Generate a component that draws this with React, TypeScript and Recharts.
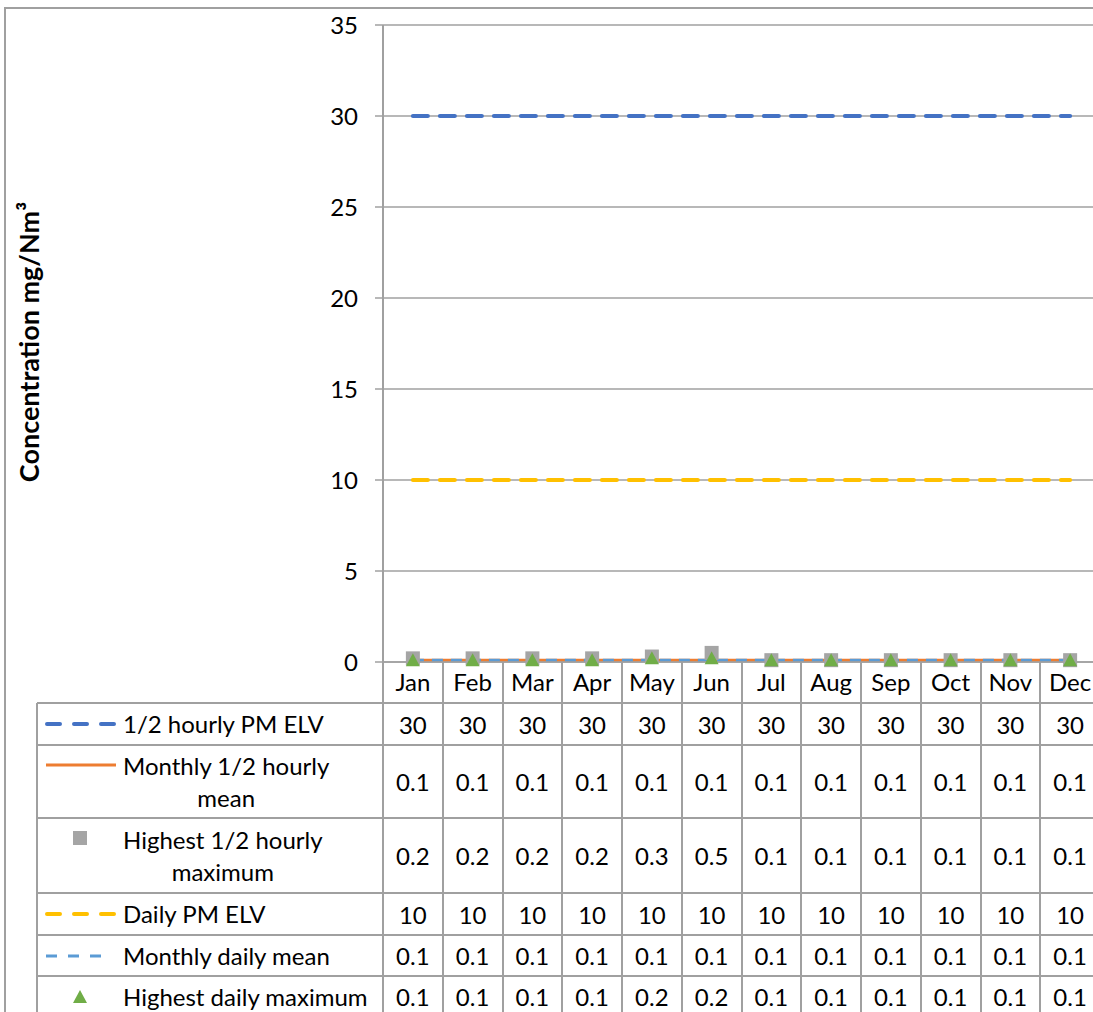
import React from "react";
import {
  CartesianGrid,
  ComposedChart,
  Line,
  XAxis,
  YAxis,
} from "recharts";

const months = ["Jan", "Feb", "Mar", "Apr", "May", "Jun", "Jul", "Aug", "Sep", "Oct", "Nov", "Dec"];
const elvHalfHourly = [30, 30, 30, 30, 30, 30, 30, 30, 30, 30, 30, 30];
const meanHalfHourly = [0.1, 0.1, 0.1, 0.1, 0.1, 0.1, 0.1, 0.1, 0.1, 0.1, 0.1, 0.1];
const maxHalfHourly = [0.2, 0.2, 0.2, 0.2, 0.3, 0.5, 0.1, 0.1, 0.1, 0.1, 0.1, 0.1];
const elvDaily = [10, 10, 10, 10, 10, 10, 10, 10, 10, 10, 10, 10];
const meanDaily = [0.1, 0.1, 0.1, 0.1, 0.1, 0.1, 0.1, 0.1, 0.1, 0.1, 0.1, 0.1];
const maxDaily = [0.1, 0.1, 0.1, 0.1, 0.2, 0.2, 0.1, 0.1, 0.1, 0.1, 0.1, 0.1];
const yTicks = [0, 5, 10, 15, 20, 25, 30, 35];

const data = months.map((m, i) => ({
  month: m,
  elvHalfHourly: elvHalfHourly[i],
  meanHalfHourly: meanHalfHourly[i],
  maxHalfHourly: maxHalfHourly[i],
  elvDaily: elvDaily[i],
  meanDaily: meanDaily[i],
  maxDaily: maxDaily[i],
}));

const FONT = "Lato, 'Open Sans', sans-serif";
const FS = 24;
const GRID = "#a0a0a0";
const PLOT_LEFT = 383;
const PLOT_RIGHT = 1100;
const COL_W = (PLOT_RIGHT - PLOT_LEFT) / 12;
const TABLE_LEFT = 37;
const ROW_LINES = [703, 745, 818, 893, 935, 976, 1040];

const rows = [
  { label: ["1/2 hourly PM ELV"], values: elvHalfHourly, icon: "dashDark" },
  { label: ["Monthly 1/2 hourly", "mean"], values: meanHalfHourly, icon: "orange" },
  { label: ["Highest 1/2 hourly", "maximum"], values: maxHalfHourly, icon: "square" },
  { label: ["Daily PM ELV"], values: elvDaily, icon: "dashYellow" },
  { label: ["Monthly daily mean"], values: meanDaily, icon: "dashLight" },
  { label: ["Highest daily maximum"], values: maxDaily, icon: "triangle" },
];

function Icon({ kind }: { kind: string }) {
  return (
    <svg width={72} height={14} style={{ display: "block" }}>
      {kind === "dashDark" && (
        <line x1={2} y1={7} x2={70} y2={7} stroke="#4472c4" strokeWidth={4} strokeDasharray="13 14" strokeLinecap="round" />
      )}
      {kind === "dashYellow" && (
        <line x1={2} y1={7} x2={70} y2={7} stroke="#ffc000" strokeWidth={4} strokeDasharray="13 14" strokeLinecap="round" />
      )}
      {kind === "dashLight" && (
        <line x1={1} y1={7} x2={60} y2={7} stroke="#5b9bd5" strokeWidth={3} strokeDasharray="11 11" />
      )}
      {kind === "orange" && <line x1={1} y1={7} x2={71} y2={7} stroke="#ed7d31" strokeWidth={3} />}
      {kind === "square" && <rect x={28} y={0} width={14} height={14} fill="#a5a5a5" />}
      {kind === "triangle" && <polygon points="35,0 42,13 28,13" fill="#70ad47" />}
    </svg>
  );
}

const squareDot = (props: any) => {
  const { cx, cy, index } = props;
  return <rect key={`sq-${index}`} x={cx - 7} y={cy - 7} width={14} height={14} fill="#a5a5a5" />;
};

const triangleDot = (props: any) => {
  const { cx, cy, index } = props;
  return (
    <polygon
      key={`tr-${index}`}
      points={`${cx},${cy - 7} ${cx + 7},${cy + 6} ${cx - 7},${cy + 6}`}
      fill="#70ad47"
    />
  );
};

export default function App() {
  const tableLines: React.ReactNode[] = [];
  ROW_LINES.forEach((y, i) =>
    tableLines.push(
      <div
        key={`h${i}`}
        style={{ position: "absolute", left: TABLE_LEFT, top: y - 1, width: PLOT_RIGHT - TABLE_LEFT, height: 2, background: GRID }}
      />
    )
  );
  tableLines.push(
    <div key="vl" style={{ position: "absolute", left: TABLE_LEFT - 1, top: 703, width: 2, height: 340, background: GRID }} />
  );
  for (let i = 0; i <= 12; i++) {
    tableLines.push(
      <div
        key={`v${i}`}
        style={{ position: "absolute", left: PLOT_LEFT + i * COL_W - 1, top: 662, width: 2, height: 380, background: GRID }}
      />
    );
  }

  return (
    <div
      style={{
        position: "absolute",
        left: 0,
        top: 0,
        width: 1093,
        height: 1012,
        overflow: "hidden",
        background: "#fff",
        fontFamily: FONT,
      }}
    >
      <div
        style={{
          position: "absolute",
          left: 4,
          top: 7,
          width: 1120,
          height: 1100,
          border: `2px solid ${GRID}`,
        }}
      />
      {tableLines}
      <div style={{ position: "absolute", left: 0, top: 0 }}>
        <ComposedChart
          width={1110}
          height={1012}
          data={data}
          margin={{ top: 25, right: 1110 - PLOT_RIGHT, left: PLOT_LEFT - 60, bottom: 1012 - 703 }}
        >
          <CartesianGrid horizontal vertical={false} stroke={GRID} strokeWidth={1.5} />
          <XAxis
            dataKey="month"
            scale="band"
            height={41}
            axisLine={{ stroke: GRID, strokeWidth: 1.5 }}
            tickLine={false}
            tickSize={0}
            tickMargin={12}
            interval={0}
            tick={{ fontSize: FS, fill: "#000", fontFamily: FONT }}
          />
          <YAxis
            width={60}
            domain={[0, 35]}
            ticks={yTicks}
            interval={0}
            axisLine={{ stroke: GRID, strokeWidth: 2 }}
            tickLine={{ stroke: GRID, strokeWidth: 1.5 }}
            tickSize={8}
            tickMargin={17}
            tick={{ fontSize: FS, fill: "#000", fontFamily: FONT }}
            label={{
              content: () => (
                <text
                  x={28}
                  y={342}
                  transform="rotate(-90 28 342)"
                  textAnchor="middle"
                  dominantBaseline="central"
                  fontSize={27}
                  fontWeight="bold"
                  fontFamily={FONT}
                  fill="#000"
                >
                  Concentration mg/Nm³
                </text>
              ),
            }}
          />
          <Line
            dataKey="elvHalfHourly"
            stroke="#4472c4"
            strokeWidth={4}
            strokeDasharray="15 12"
            strokeLinecap="round"
            dot={false}
            isAnimationActive={false}
          />
          <Line
            dataKey="elvDaily"
            stroke="#ffc000"
            strokeWidth={4}
            strokeDasharray="15 12"
            strokeLinecap="round"
            dot={false}
            isAnimationActive={false}
          />
          <Line dataKey="meanHalfHourly" stroke="#ed7d31" strokeWidth={3} dot={false} isAnimationActive={false} />
          <Line
            dataKey="meanDaily"
            stroke="#5b9bd5"
            strokeWidth={3}
            strokeDasharray="11 8"
            dot={false}
            isAnimationActive={false}
          />
          <Line dataKey="maxHalfHourly" stroke="none" dot={squareDot} activeDot={false} isAnimationActive={false} />
          <Line dataKey="maxDaily" stroke="none" dot={triangleDot} activeDot={false} isAnimationActive={false} />
        </ComposedChart>
      </div>
      {rows.map((r, ri) => {
        const top = ROW_LINES[ri];
        const bottom = ri + 1 < ROW_LINES.length ? Math.min(ROW_LINES[ri + 1], 1017) : 1017;
        const h = bottom - top;
        return (
          <React.Fragment key={ri}>
            <div
              style={{
                position: "absolute",
                left: 45,
                top,
                height: h,
                display: "flex",
                alignItems: "center",
              }}
            >
              <div style={{ position: "absolute", left: 0, top: r.label.length > 1 ? 13 : h / 2 - 7 }}>
                <Icon kind={r.icon} />
              </div>
              <div
                style={{
                  marginLeft: 78,
                  fontSize: FS,
                  lineHeight: "32px",
                  textAlign: "center",
                  color: "#000",
                  whiteSpace: "nowrap",
                }}
              >
                {r.label.map((t, k) => (
                  <div key={k}>{t}</div>
                ))}
              </div>
            </div>
            {r.values.map((v, ci) => (
              <div
                key={ci}
                style={{
                  position: "absolute",
                  left: PLOT_LEFT + ci * COL_W,
                  top,
                  width: COL_W,
                  height: h,
                  display: "flex",
                  alignItems: "center",
                  justifyContent: "center",
                  fontSize: FS,
                  color: "#000",
                }}
              >
                {String(v)}
              </div>
            ))}
          </React.Fragment>
        );
      })}
    </div>
  );
}
